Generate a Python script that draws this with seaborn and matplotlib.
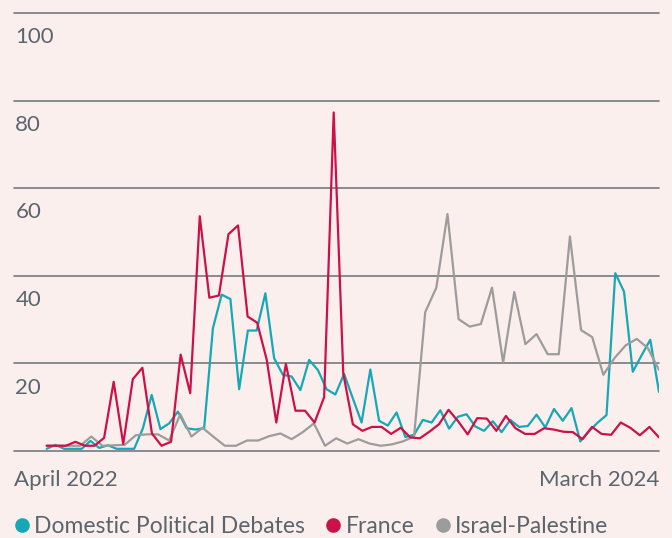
"""
Share of coverage by topic, April 2022 - March 2024.
Each topic is sampled evenly over the period (the series have
different numbers of observations).
"""

import pandas as pd
import matplotlib.pyplot as plt
from matplotlib.lines import Line2D
import seaborn as sns


# ---------------------------------------------------------------------------
# Data
# ---------------------------------------------------------------------------

domestic = [
    0.5, 1.4, 0.5, 0.5, 0.5, 2.3, 0.7, 1.3, 0.5, 0.5,
    0.5, 5.2, 12.8, 5.0, 6.3, 9.0, 5.2, 4.9, 5.2, 28.0,
    35.7, 34.7, 14.1, 27.5, 27.5, 36.0, 21.2, 17.4, 17.0, 13.9,
    20.8, 18.5, 14.1, 12.9, 17.6, 12.0, 6.5, 18.6, 6.9, 5.8,
    8.8, 3.2, 3.7, 7.1, 6.5, 9.3, 5.1, 7.8, 8.4, 5.6,
    4.6, 6.8, 4.3, 7.1, 5.5, 5.7, 8.3, 5.4, 9.6, 6.9,
    9.8, 2.2, 4.5, 6.5, 8.2, 40.6, 36.4, 18.1, 21.8, 25.4,
    13.5,
]

france = [
    1.2, 1.2, 1.2, 2.1, 1.2, 1.2, 3.0, 15.8, 1.6, 16.4,
    19.0, 4.0, 1.2, 2.1, 22.0, 13.2, 53.6, 35.0, 35.5, 49.5,
    51.5, 30.7, 29.3, 20.8, 6.5, 19.9, 9.2, 9.2, 6.5, 12.3,
    77.3, 17.7, 6.1, 4.6, 5.5, 5.5, 3.9, 5.3, 3.1, 2.9,
    4.4, 6.1, 9.4, 6.8, 3.8, 7.5, 7.4, 4.6, 8.0, 5.2,
    3.9, 3.9, 5.2, 4.9, 4.4, 4.3, 2.7, 5.5, 3.9, 3.7,
    6.5, 5.3, 3.6, 5.5, 3.1,
]

israel = [
    1.2, 1.2, 1.2, 1.2, 3.3, 1.2, 1.3, 1.4, 3.6, 3.8,
    3.8, 2.4, 8.4, 3.3, 5.3, 3.2, 1.2, 1.2, 2.4, 2.4,
    3.4, 4.0, 2.7, 4.3, 6.3, 1.2, 2.9, 1.7, 2.7, 1.7,
    1.2, 1.5, 2.2, 3.3, 31.7, 37.3, 54.1, 30.1, 28.4, 29.0,
    37.3, 20.2, 36.3, 24.4, 26.7, 22.1, 22.1, 49.0, 27.6, 26.0,
    17.4, 21.2, 24.1, 25.6, 23.5, 18.5,
]

topics = ["Domestic Political Debates", "France", "Israel-Palestine"]
topic_colors = ["#16a8b6", "#cc1148", "#9c9c9c"]
y_ticks = [0, 20, 40, 60, 80, 100]
period_start, period_end = "2022-04-01", "2024-03-31"
start_label, end_label = "April 2022", "March 2024"

BG = "#fbefed"
INK = "#5b656d"
GRID = "#747a7f"


def to_frame(name, values):
    dates = pd.date_range(period_start, period_end, periods=len(values))
    return pd.DataFrame({"date": dates, "value": values, "topic": name})


df = pd.concat(
    [to_frame(n, v) for n, v in zip(topics, [domestic, france, israel])],
    ignore_index=True,
)
palette = dict(zip(topics, topic_colors))

# ---------------------------------------------------------------------------
# Figure
# ---------------------------------------------------------------------------

sns.set_style("white")
plt.rcParams["font.family"] = ["Lato", "DejaVu Sans"]

W, H = 672, 538
fig = plt.figure(figsize=(W / 100, H / 100), dpi=100, facecolor=BG)
ax = fig.add_axes([14 / W, 87 / H, 645 / W, 438 / H])
ax.set_facecolor(BG)

# France drawn last so it sits on top
sns.lineplot(
    data=df, x="date", y="value", hue="topic",
    hue_order=["Domestic Political Debates", "Israel-Palestine", "France"],
    palette=palette, linewidth=1.6, legend=False, ax=ax,
)

start, end = pd.Timestamp(period_start), pd.Timestamp(period_end)
ax.set_xlim(start - (end - start) * 0.0534, end)
ax.set_ylim(y_ticks[0], y_ticks[-1])
ax.set_yticks(y_ticks)
ax.yaxis.grid(True, color=GRID, linewidth=1.2)
ax.xaxis.grid(False)
for gl in ax.get_ygridlines():
    gl.set_clip_on(False)
ax.tick_params(left=False, bottom=False, labelleft=False, labelbottom=False)
ax.set_xlabel("")
ax.set_ylabel("")
sns.despine(ax=ax, left=True, bottom=True)

# y labels sit just under their gridline
for v in y_ticks[1:]:
    ax.text(0.002, v - 6.9, str(v), transform=ax.get_yaxis_transform(),
            ha="left", va="baseline", fontsize=16, color=INK)

fig.text(14 / W, 1 - 486.5 / H, start_label, ha="left", va="baseline",
         fontsize=16, color=INK)
fig.text(659 / W, 1 - 486.5 / H, end_label, ha="right", va="baseline",
         fontsize=16, color=INK)

handles = [
    Line2D([], [], marker="o", linestyle="", markersize=9.5,
           color=palette[t], label=t)
    for t in topics
]
fig.legend(handles=handles, loc="lower left", bbox_to_anchor=(15 / W, 0.001),
           ncol=3, frameon=False, fontsize=16.5, handlelength=0.6,
           handletextpad=0.25, columnspacing=0.92, borderpad=0,
           borderaxespad=0, labelcolor=INK)

fig.savefig("out.png", dpi=100, facecolor=BG)
plt.close(fig)
